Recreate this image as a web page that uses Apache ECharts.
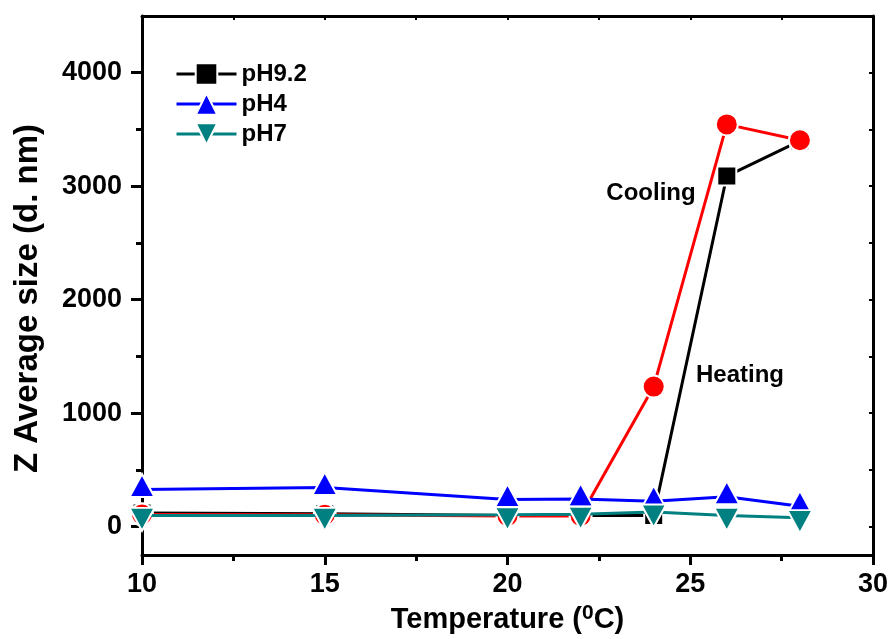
<!DOCTYPE html>
<html>
<head>
<meta charset="utf-8">
<script src="https://cdn.jsdelivr.net/npm/echarts@6/dist/echarts.min.js"></script>
<style>
  html, body { margin: 0; padding: 0; background: #fff; }
  #chart { width: 894px; height: 639px; }
</style>
</head>
<body>
<div id="chart"></div>
<script>
// temperatures (deg C)
const temps = [10, 15, 20, 22, 24, 26, 28];
// pH9.2 heating (black squares) and cooling (red circles)
const ph92Heating = [122, 115, 100, 100, 100, 3090, 3400];
const ph92Cooling = [108, 105, 95, 95, 1235, 3545, 3405];
const ph4 = [328, 345, 240, 245, 225, 265, 180];
const ph7 = [100, 100, 105, 110, 130, 100, 80];

const yMajor = [0, 1000, 2000, 3000, 4000];
const yMinor = [500, 1500, 2500, 3500];
const yRight = [0, 500, 1000, 1500, 2000, 2500, 3000, 3500, 4000];

const FONT = '"Liberation Sans", Arial, sans-serif';

function pairs (ys) {
  return temps.map((t, i) => [t, ys[i]]);
}

const chart = echarts.init(document.getElementById('chart'));

const axisLine = { show: true, onZero: false, lineStyle: { color: '#000', width: 3 } };

chart.setOption({
  animation: false,
  backgroundColor: '#fff',
  grid: { left: 142, right: 21, top: 16, bottom: 81 },
  legend: {
    data: ['pH9.2', 'pH4', 'pH7'],
    orient: 'vertical',
    left: 170,
    top: 57,
    itemWidth: 60,
    itemHeight: 27,
    itemGap: 6,
    lineStyle: { width: 3 },
    textStyle: { fontFamily: FONT, fontWeight: 'bold', fontSize: 24, color: '#000' }
  },
  xAxis: [{
    type: 'value',
    min: 10,
    max: 30,
    interval: 5,
    position: 'bottom',
    axisLine: axisLine,
    axisTick: { show: true, length: 10, lineStyle: { color: '#000', width: 3 } },
    minorTick: { show: true, splitNumber: 2, length: 6, lineStyle: { color: '#000', width: 3 } },
    splitLine: { show: false },
    axisLabel: { margin: 16, color: '#000', fontFamily: FONT, fontWeight: 'bold', fontSize: 27 },
    name: 'Temperature ({s|0}C)',
    nameLocation: 'middle',
    nameGap: 46,
    nameTextStyle: {
      fontFamily: FONT, fontWeight: 'bold', fontSize: 29, color: '#000',
      rich: {
        s: { fontFamily: FONT, fontWeight: 'bold', fontSize: 21, color: '#000', verticalAlign: 'top', padding: [0, 0, 12, 0] }
      }
    }
  }, {
    type: 'value',
    min: 10,
    max: 30,
    interval: 5,
    position: 'top',
    axisLine: axisLine,
    axisTick: { show: true, inside: true, length: 4, lineStyle: { color: '#000', width: 2 } },
    minorTick: { show: true, splitNumber: 2, length: 4, lineStyle: { color: '#000', width: 2 } },
    splitLine: { show: false },
    axisLabel: { show: false }
  }],
  yAxis: [{
    type: 'value',
    min: -250,
    max: 4500,
    position: 'left',
    axisLine: axisLine,
    axisTick: { show: true, length: 11, customValues: yMajor, lineStyle: { color: '#000', width: 3 } },
    splitLine: { show: false },
    axisLabel: {
      customValues: yMajor,
      formatter: v => String(v),
      margin: 20,
      color: '#000',
      fontFamily: FONT,
      fontWeight: 'bold',
      fontSize: 27
    },
    name: 'Z Average size (d. nm)',
    nameLocation: 'middle',
    nameRotate: 90,
    nameGap: 98,
    nameTextStyle: { fontFamily: FONT, fontWeight: 'bold', fontSize: 33, color: '#000', padding: [0, 26, 0, 0] }
  }, {
    type: 'value',
    min: -250,
    max: 4500,
    position: 'left',
    axisLine: { show: false, onZero: false },
    axisTick: { show: true, length: 6, customValues: yMinor, lineStyle: { color: '#000', width: 3 } },
    splitLine: { show: false },
    axisLabel: { show: false, customValues: yMinor }
  }, {
    type: 'value',
    min: -250,
    max: 4500,
    position: 'right',
    axisLine: axisLine,
    axisTick: { show: true, inside: true, length: 4, customValues: yRight, lineStyle: { color: '#000', width: 2 } },
    splitLine: { show: false },
    axisLabel: { show: false, customValues: yRight }
  }],
  graphic: [
    { type: 'text', x: 651, y: 193, style: { text: 'Cooling', align: 'center', verticalAlign: 'middle', fill: '#000', font: 'bold 24px ' + FONT } },
    { type: 'text', x: 740, y: 375, style: { text: 'Heating', align: 'center', verticalAlign: 'middle', fill: '#000', font: 'bold 24px ' + FONT } }
  ],
  series: [
    {
      name: 'pH9.2',
      type: 'line',
      data: pairs(ph92Heating),
      symbol: 'rect',
      symbolSize: 19,
      lineStyle: { color: '#000', width: 3 },
      itemStyle: { color: '#000', borderColor: '#fff', borderWidth: 2 },
      z: 2
    },
    {
      name: 'cooling',
      type: 'line',
      data: pairs(ph92Cooling),
      symbol: 'circle',
      symbolSize: 22,
      lineStyle: { color: '#ff0000', width: 3 },
      itemStyle: { color: '#ff0000', borderColor: '#fff', borderWidth: 2 },
      z: 3
    },
    {
      name: 'pH4',
      type: 'line',
      data: pairs(ph4),
      symbol: 'triangle',
      symbolSize: [25, 23],
      symbolOffset: [0, -4],
      lineStyle: { color: '#0000ff', width: 3 },
      itemStyle: { color: '#0000ff', borderColor: '#fff', borderWidth: 2 },
      z: 4
    },
    {
      name: 'pH7',
      type: 'line',
      data: pairs(ph7),
      symbol: 'triangle',
      symbolRotate: 180,
      symbolSize: [25, 23],
      symbolOffset: [0, 4],
      lineStyle: { color: '#008080', width: 3 },
      itemStyle: { color: '#008080', borderColor: '#fff', borderWidth: 2 },
      z: 5
    }
  ]
});
</script>
</body>
</html>
